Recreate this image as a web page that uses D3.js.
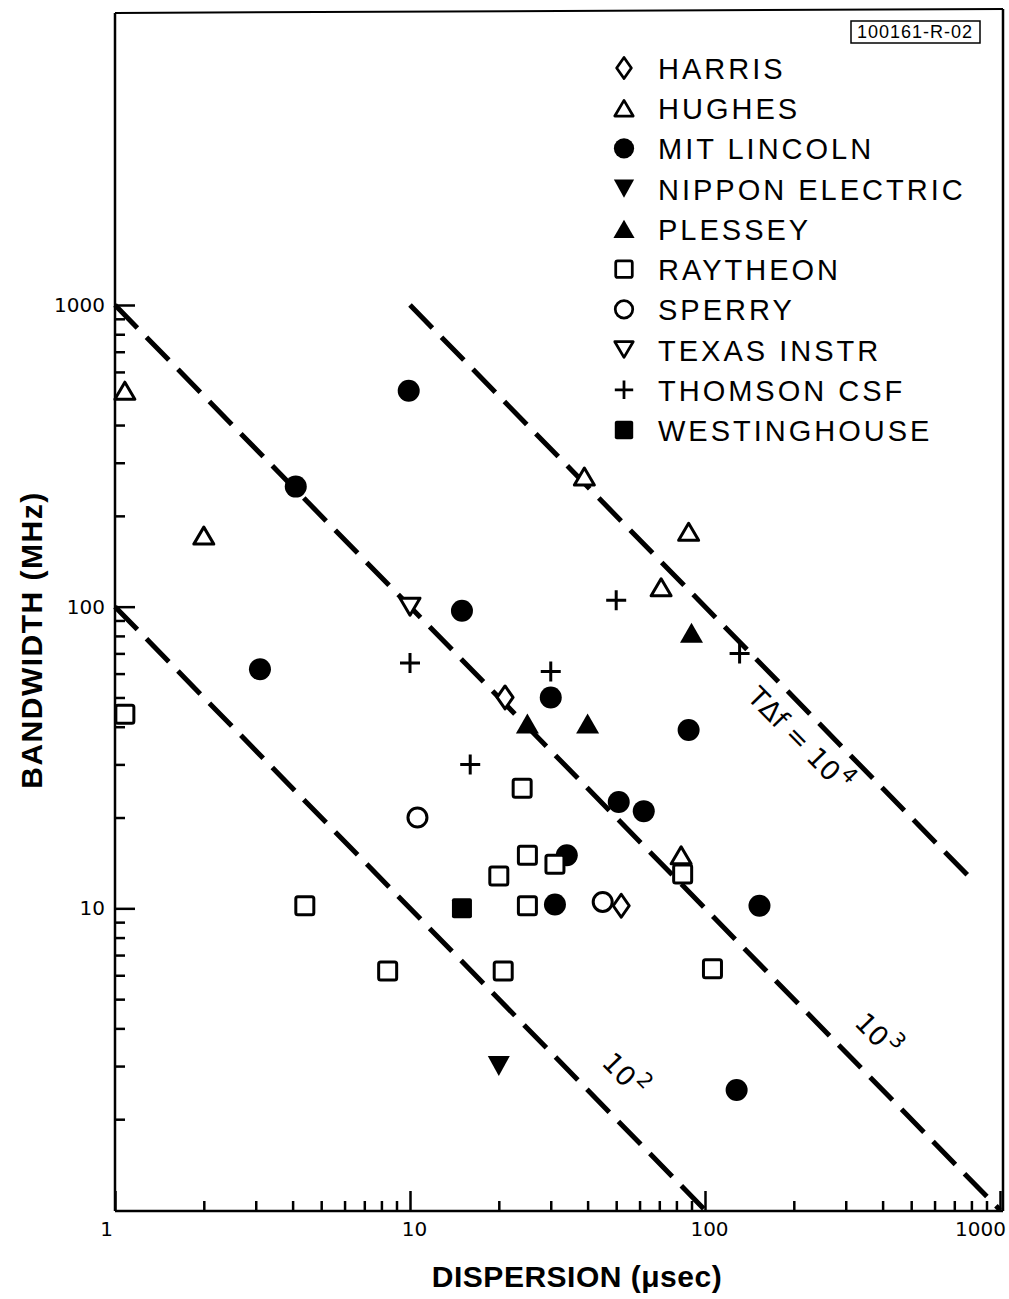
<!DOCTYPE html>
<html><head><meta charset="utf-8">
<script src="https://cdn.jsdelivr.net/npm/d3@7"></script>
<style>body{margin:0;background:#fff}svg{display:block}</style>
</head><body><svg id="chart" width="1009" height="1299"></svg>
<script>
// ---------------- data ----------------
const companies = ["HARRIS","HUGHES","MIT LINCOLN","NIPPON ELECTRIC","PLESSEY","RAYTHEON","SPERRY","TEXAS INSTR","THOMSON CSF","WESTINGHOUSE"];
const symbolTypes = ["diamond","triangleOpen","circleFilled","triangleDownFilled","triangleFilled","square","circleOpen","triangleDownOpen","plus","squareFilled"];
// [dispersion (usec), bandwidth (MHz)]
const harris = [[21,50],[52,10.2]];
const hughes = [[1.08,520],[2,172],[39,270],[88,177],[71,116],[83,15]];
const mitLincoln = [[9.9,520],[4.1,250],[15,97],[3.1,62],[30,50],[88,39],[51,22.5],[62,21],[34,15],[31,10.3],[153,10.2],[128,2.5]];
const nipponElectric = [[20,3]];
const plessey = [[25,41],[40,41],[90,82]];
const raytheon = [[1.08,44],[24,25],[25,15],[31,14],[20,12.8],[84,13],[25,10.2],[4.4,10.2],[8.4,6.2],[20.7,6.2],[106,6.3]];
const sperry = [[10.6,20],[45,10.5]];
const texasInstr = [[10,100]];
const thomsonCsf = [[10,65],[16,30],[30,61],[50,105],[131,70]];
const westinghouse = [[15,10]];
const seriesData = [harris,hughes,mitLincoln,nipponElectric,plessey,raytheon,sperry,texasInstr,thomsonCsf,westinghouse];

// constant time-bandwidth lines: product, x start, x end
const tbProducts = [100, 1000, 10000];
const tbXStart = [1, 1, 10];
const tbXEnd = [100, 1000, 800];
// label positions (data coords) for each line
const tbLabelPos = [[53.6,2.81],[385,3.81],[210,36.4]];
const tbLabelMain = ["10","10","T\u0394f = 10"];
const tbLabelExp = ["2","3","4"];

const xMajorTicks = [1,10,100,1000];
const yMajorTicks = [10,100,1000];
const minorMult = [2,3,4,5,6,7,8,9];
const decades = [1,10,100];

// ---------------- chart ----------------
const svg = d3.select("#chart");
const x = d3.scaleLog().domain([1,1000]).range([115,1000]);
const y = d3.scaleLog().domain([1,1000]).range([1210,305]);
const minorTicks = decades.flatMap(d => minorMult.map(m => m*d));

const frame = {left:115, right:1003, bottom:1211, topL:13, topR:9};
const fr = svg.append("g").attr("stroke","#000").attr("stroke-width",2.5).attr("fill","none");
fr.append("line").attr("x1",frame.left).attr("y1",frame.topL).attr("x2",frame.left).attr("y2",frame.bottom);
fr.append("line").attr("x1",frame.left).attr("y1",frame.bottom).attr("x2",frame.right).attr("y2",frame.bottom);
fr.append("line").attr("x1",frame.right).attr("y1",frame.topR).attr("x2",frame.right).attr("y2",frame.bottom);
fr.append("line").attr("x1",frame.left).attr("y1",frame.topL).attr("x2",frame.right).attr("y2",frame.topR).attr("stroke-width",2);

function styleAxis(g){
  g.select(".domain").remove();
  g.selectAll(".tick line").attr("stroke","#000").attr("stroke-width",2.5);
  g.selectAll(".tick text").attr("fill","#000").attr("font-family","DejaVu Sans").attr("font-size",20);
}
svg.append("g").attr("transform",`translate(0,${frame.bottom})`)
  .call(d3.axisBottom(x).tickValues(minorTicks).tickSize(-10).tickFormat(""))
  .call(styleAxis);
svg.append("g").attr("transform",`translate(0,${frame.bottom})`)
  .call(d3.axisBottom(x).tickValues(xMajorTicks).tickSize(-20).tickPadding(11).tickFormat(d3.format("d")))
  .call(styleAxis)
  .call(g => g.selectAll(".tick text").attr("dx", d => d===1 ? -9 : d===1000 ? -20 : 4));
svg.append("g").attr("transform",`translate(${frame.left},0)`)
  .call(d3.axisLeft(y).tickValues(minorTicks).tickSize(-10).tickFormat(""))
  .call(styleAxis);
svg.append("g").attr("transform",`translate(${frame.left},0)`)
  .call(d3.axisLeft(y).tickValues(yMajorTicks).tickSize(-20).tickPadding(10).tickFormat(d3.format("d")))
  .call(styleAxis);

// axis titles
svg.append("text").attr("x",577).attr("y",1287).attr("text-anchor","middle")
  .attr("font-family","Liberation Sans").attr("font-weight","bold").attr("font-size",30)
  .attr("letter-spacing",0.5).text("DISPERSION (\u03bcsec)");
svg.append("text").attr("transform","translate(42,640) rotate(-90)").attr("text-anchor","middle")
  .attr("font-family","Liberation Sans").attr("font-weight","bold").attr("font-size",30)
  .attr("letter-spacing",1.5).text("BANDWIDTH (MHz)");

// dashed lines
const line = d3.line().x(d => x(d[0])).y(d => y(d[1]));
const angle = Math.atan2(y(1)-y(10), x(10)-x(1))*180/Math.PI;
tbProducts.forEach((p,i) => {
  svg.append("path").datum([[tbXStart[i], p/tbXStart[i]],[tbXEnd[i], p/tbXEnd[i]]])
    .attr("d",line).attr("fill","none").attr("stroke","#000").attr("stroke-width",5)
    .attr("stroke-dasharray","32 13");
  const t = svg.append("text")
    .attr("transform",`translate(${x(tbLabelPos[i][0])},${y(tbLabelPos[i][1])}) rotate(${angle})`)
    .attr("text-anchor","middle").attr("dominant-baseline","central")
    .attr("font-family","DejaVu Sans").attr("font-size",27).attr("fill","#000");
  t.append("tspan").text(tbLabelMain[i]);
  t.append("tspan").attr("dy",-10).attr("dx",2).attr("font-size",21).text(tbLabelExp[i]);
});

// symbols
function drawSymbol(g, type, k){
  const sw = 3*k;
  switch(type){
    case "circleFilled": g.append("circle").attr("r",11*k).attr("fill","#000"); break;
    case "circleOpen": g.append("circle").attr("r",9.5*k).attr("fill","#fff").attr("stroke","#000").attr("stroke-width",sw); break;
    case "square": g.append("rect").attr("x",-9*k).attr("y",-9*k).attr("width",18*k).attr("height",18*k).attr("rx",2)
        .attr("fill","#fff").attr("stroke","#000").attr("stroke-width",sw); break;
    case "squareFilled": g.append("rect").attr("x",-10*k).attr("y",-10*k).attr("width",20*k).attr("height",20*k).attr("rx",2).attr("fill","#000"); break;
    case "triangleOpen": { const a=20*k,h=17*k;
      g.append("path").attr("d",`M0,${-h/2}L${a/2},${h/2}L${-a/2},${h/2}Z`).attr("fill","#fff").attr("stroke","#000").attr("stroke-width",sw).attr("stroke-linejoin","round"); break; }
    case "triangleFilled": { const a=23*k,h=20*k;
      g.append("path").attr("d",`M0,${-h/2}L${a/2},${h/2}L${-a/2},${h/2}Z`).attr("fill","#000"); break; }
    case "triangleDownFilled": { const a=22*k,h=20*k;
      g.append("path").attr("d",`M0,${h/2}L${a/2},${-h/2}L${-a/2},${-h/2}Z`).attr("fill","#000"); break; }
    case "triangleDownOpen": { const a=20*k,h=17*k;
      g.append("path").attr("d",`M0,${h/2}L${a/2},${-h/2}L${-a/2},${-h/2}Z`).attr("fill","#fff").attr("stroke","#000").attr("stroke-width",sw).attr("stroke-linejoin","round"); break; }
    case "diamond": { const w=8*k,h=11.5*k;
      g.append("path").attr("d",`M0,${-h}L${w},0L0,${h}L${-w},0Z`).attr("fill","#fff").attr("stroke","#000").attr("stroke-width",sw).attr("stroke-linejoin","round"); break; }
    case "plus": { const s=10*k;
      g.append("path").attr("d",`M${-s},0H${s}M0,${-s}V${s}`).attr("stroke","#000").attr("stroke-width",sw); break; }
  }
}
seriesData.forEach((arr,i) => {
  svg.append("g").selectAll("g").data(arr).join("g")
    .attr("transform", d => `translate(${x(d[0])},${y(d[1])})`)
    .each(function(){ drawSymbol(d3.select(this), symbolTypes[i], 1); });
});

// legend
const legendRow = d3.scalePoint().domain(companies).range([68, 430]);
const leg = svg.append("g");
companies.forEach((c,i) => {
  const gy = legendRow(c);
  drawSymbol(leg.append("g").attr("transform",`translate(624,${gy})`), symbolTypes[i], 0.92);
  leg.append("text").attr("x",658).attr("y",gy+11).attr("font-family","Liberation Sans").attr("font-size",29)
    .attr("letter-spacing",3).attr("fill","#000").text(c);
});

// figure id box
svg.append("rect").attr("x",851).attr("y",21).attr("width",129).attr("height",22)
  .attr("fill","none").attr("stroke","#000").attr("stroke-width",1.5);
svg.append("text").attr("x",915).attr("y",38).attr("text-anchor","middle").attr("font-family","Liberation Sans")
  .attr("font-size",18).attr("letter-spacing",1).attr("fill","#000").text("100161-R-02");
</script></body></html>
